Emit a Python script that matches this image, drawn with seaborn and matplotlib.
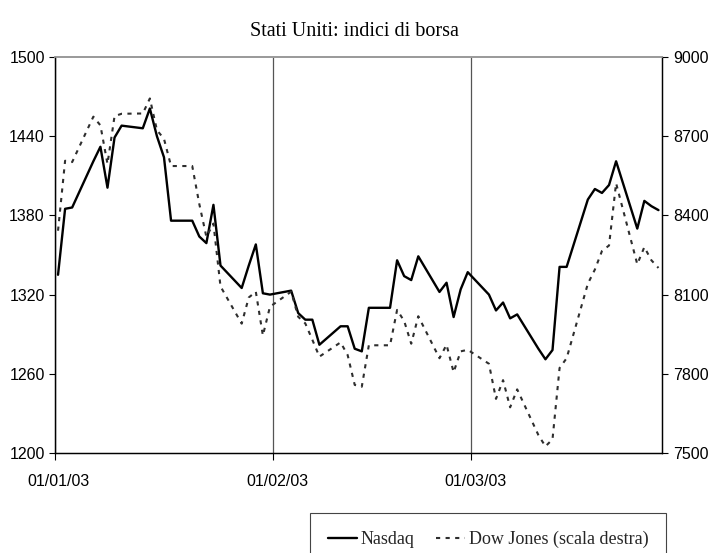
import numpy as np
import pandas as pd
import matplotlib
matplotlib.use('Agg')
import matplotlib.pyplot as plt
import seaborn as sns
from matplotlib.transforms import ScaledTranslation
from matplotlib.lines import Line2D

# ---------------- data ----------------
dates = pd.bdate_range('2003-01-01', '2003-03-27')

nasdaq = [
    # January
    1335, 1385, 1386, 1421, 1432, 1401, 1439, 1448, 1446, 1461, 1440, 1424,
    1376, 1376, 1364, 1359, 1388, 1342, 1325, 1342, 1358, 1321, 1320,
    # February
    1323, 1306, 1301, 1301, 1282, 1296, 1296, 1279, 1277, 1310, 1310, 1346,
    1334, 1331, 1349, 1322, 1329, 1303, 1324, 1337,
    # March
    1320, 1308, 1314, 1302, 1305, 1279, 1271, 1278, 1341, 1341, 1392, 1400,
    1397, 1403, 1421, 1370, 1391, 1387, 1384,
]

dowjones = [
    # January
    8342, 8607, 8602, 8774, 8741, 8595, 8776, 8785, 8786, 8843, 8723, 8690,
    8587, 8587, 8443, 8319, 8369, 8131, 7990, 8089, 8111, 7945, 8054,
    # February
    8111, 8016, 7991, 7929, 7865, 7919, 7871, 7758, 7751, 7908, 7908, 8042,
    8000, 7914, 8018, 7859, 7910, 7806, 7885, 7891,
    # March
    7838, 7705, 7776, 7673, 7741, 7568, 7525, 7552, 7822, 7859, 8141, 8195,
    8265, 8286, 8522, 8215, 8280, 8230, 8201,
]

title = 'Stati Uniti: indici di borsa'
series_names = ['Nasdaq', 'Dow Jones (scala destra)']
x_tick_dates = ['2003-01-01', '2003-02-01', '2003-03-01']
x_tick_labels = ['01/01/03', '01/02/03', '01/03/03']
left_ticks = [1200, 1260, 1320, 1380, 1440, 1500]
right_ticks = [7500, 7800, 8100, 8400, 8700, 9000]

# ---------------- style ----------------
sns.set_theme(style='white')
plt.rcParams['font.family'] = ['Liberation Sans Narrow', 'Liberation Sans', 'DejaVu Sans']

df = pd.DataFrame({
    'date': dates + pd.Timedelta(hours=12),
    'Nasdaq': nasdaq,
    'Dow': dowjones,
})

W, H = 708, 553
fig = plt.figure(figsize=(W / 100, H / 100), dpi=100)
ax = fig.add_axes([54.5 / W, 1 - 453 / H, (662 - 54.5) / W, (453 - 57) / H])
ax2 = ax.twinx()

sns.lineplot(data=df, x='date', y='Nasdaq', ax=ax, color='black', linewidth=1.7)
sns.lineplot(data=df, x='date', y='Dow', ax=ax2, color='#2e2e2e', linewidth=1.5)
ax2.lines[0].set_dashes([2.0, 2.6])

ax.set_xlim(pd.Timestamp('2003-01-01'), pd.Timestamp('2003-03-28'))
ax.set_ylim(1200, 1500)
ax.set_yticks(left_ticks)
ax2.set_ylim(7500, 9000)
ax2.set_yticks(right_ticks)
ax.set_xticks(pd.to_datetime(x_tick_dates))
ax.set_xticklabels(x_tick_labels)
for a in (ax, ax2):
    a.set_xlabel('')
    a.set_ylabel('')

ax.xaxis.grid(True, color='#555555', linewidth=0.9)
ax.yaxis.grid(False)
ax2.grid(False)

for a in (ax, ax2):
    for s in ('left', 'right', 'bottom'):
        a.spines[s].set_color('black')
        a.spines[s].set_linewidth(0.9)
    a.spines['top'].set_color('#999999')
    a.spines['top'].set_linewidth(1.2)

ax.tick_params(axis='y', left=True, direction='out', length=4, width=0.8,
               color='black', pad=3, labelsize=11.5, labelcolor='black')
ax2.tick_params(axis='y', right=True, direction='out', length=4, width=0.8,
                color='black', pad=4, labelsize=11.5, labelcolor='black')
ax.tick_params(axis='x', bottom=True, direction='out', length=5, width=0.8,
               color='black', pad=10, labelsize=11.5, labelcolor='black')

offset = ScaledTranslation(4 / 100, 0, fig.dpi_scale_trans)
for lbl in ax.get_xticklabels():
    lbl.set_transform(lbl.get_transform() + offset)

fig.text(354 / W, 1 - 31 / H, title, ha='center', va='center',
         family=['Liberation Serif', 'DejaVu Serif'], size=14.5, color='black')

handles = [Line2D([], [], color='black', linewidth=1.7),
           Line2D([], [], color='#2e2e2e', linewidth=1.5, dashes=[2.0, 2.6])]
leg = fig.legend(handles, series_names, loc='upper left',
                 bbox_to_anchor=(310 / W, 1 - 513 / H), ncol=2, frameon=True,
                 fancybox=False, edgecolor='#444444', framealpha=1,
                 prop={'family': ['Liberation Serif', 'DejaVu Serif'], 'size': 13},
                 handlelength=1.6, handletextpad=0.2, columnspacing=1.2,
                 borderpad=1.0, borderaxespad=0)
leg.get_frame().set_linewidth(0.8)

fig.savefig('out.png', dpi=100)
